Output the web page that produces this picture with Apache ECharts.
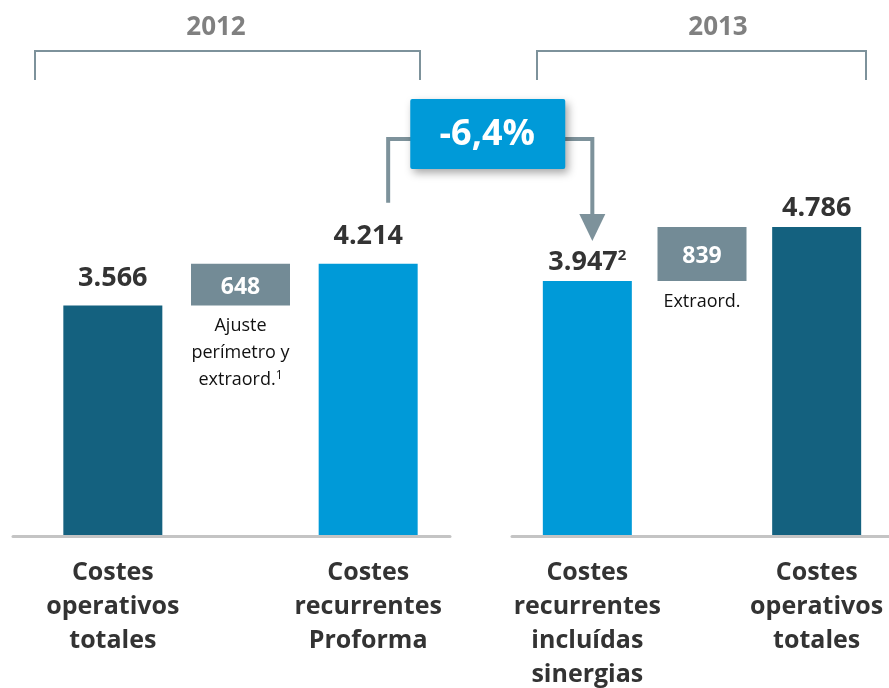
<!DOCTYPE html>
<html>
<head>
<meta charset="utf-8">
<script src="https://cdn.jsdelivr.net/npm/echarts@6/dist/echarts.min.js"></script>
<style>
  html, body { margin: 0; padding: 0; background: #fff; }
  #chart { width: 889px; height: 688px; }
</style>
</head>
<body>
<div id="chart"></div>
<script>
// datos
const years = ['2012', '2013'];
const categories2012 = ['Costes\noperativos\ntotales', '', 'Costes\nrecurrentes\nProforma'];
const categories2013 = ['Costes\nrecurrentes\nincluídas\nsinergias', '', 'Costes\noperativos\ntotales'];
const base2012 = [0, 3566, 0];
const values2012 = [3566, 648, 4214];
const base2013 = [0, 3947, 0];
const values2013 = [3947, 839, 4786];
const valueNotes2013 = ['2', '', ''];
const stepNotes = ['Ajuste\nperímetro y\nextraord.', 'Extraord.'];
const stepNoteMarks = ['1', ''];
const changeLabel = '-6,4%';

const DARK = '#14617f', BLUE = '#009ad8', GREY = '#738b96', LINE = '#7d929b';
const FONT = '"Open Sans", Lato, sans-serif';

function fmt(n) {
  return String(n).replace(/\B(?=(\d{3})+(?!\d))/g, '.');
}

function valueData(values, colors, notes, dist) {
  return values.map(function (v, i) {
    if (i === 1) {
      return {
        value: v,
        itemStyle: { color: GREY },
        label: { show: true, position: 'inside', formatter: fmt(v), color: '#fff',
          fontSize: 23, fontWeight: 'bold', fontFamily: FONT, offset: [0, 3] }
      };
    }
    const sup = notes && notes[i] ? '{s|' + notes[i] + '}' : '';
    return {
      value: v,
      itemStyle: { color: colors[i] },
      label: {
        show: true, position: 'top', distance: dist,
        formatter: '{v|' + fmt(v) + '}' + sup,
        rich: {
          v: { fontSize: 27, fontWeight: 'bold', color: '#333', fontFamily: FONT },
          s: { fontSize: 15, fontWeight: 'bold', color: '#333', fontFamily: FONT, padding: [0, 0, 13, 0] }
        }
      }
    };
  });
}

function baseData(base, note, mark) {
  return base.map(function (v, i) {
    if (i !== 1) return v;
    const lines = note.split('\n');
    if (mark) lines[lines.length - 1] += '{s|' + mark + '}';
    return {
      value: v,
      label: {
        show: true, position: 'insideTop', distance: 7,
        formatter: lines.join('\n'),
        fontSize: 18, lineHeight: 27, color: '#111', fontFamily: FONT,
        rich: { s: { fontSize: 12, color: '#111', fontFamily: FONT, padding: [0, 0, 9, 0] } }
      }
    };
  });
}

const chart = echarts.init(document.getElementById('chart'));

const catAxis = function (gi, data) {
  return {
    type: 'category', gridIndex: gi, data: data,
    axisLine: { show: false }, axisTick: { show: false },
    axisLabel: { interval: 0, margin: 21, fontSize: 25, lineHeight: 34, fontWeight: 'bold',
      color: '#333', fontFamily: FONT }
  };
};
const valAxis = function (gi) {
  return { type: 'value', gridIndex: gi, min: 0, max: 8000, show: false };
};
const lineAxis = function (gi) {
  return {
    type: 'category', gridIndex: gi, data: [''],
    axisLine: { show: true, lineStyle: { color: '#c4c4c4', width: 3 } },
    axisTick: { show: false }, axisLabel: { show: false }, z: 1
  };
};
const gridAt = function (left, right, bottom) {
  return { left: left, right: right, top: 20, bottom: bottom, outerBoundsMode: 'none', containLabel: false };
};

chart.setOption({
  animation: false,
  grid: [
    gridAt(49, 457, 153),
    gridAt(530, 15, 153),
    gridAt(13, 439, 151.5),
    gridAt(512, 0, 151.5)
  ],
  title: [
    { text: years[0], left: 211, top: 10, textAlign: 'center',
      textStyle: { fontSize: 26, fontWeight: 'bold', color: '#808080', fontFamily: FONT } },
    { text: years[1], left: 713, top: 10, textAlign: 'center',
      textStyle: { fontSize: 26, fontWeight: 'bold', color: '#808080', fontFamily: FONT } }
  ],
  xAxis: [catAxis(0, categories2012), catAxis(1, categories2013), lineAxis(2), lineAxis(3)],
  yAxis: [valAxis(0), valAxis(1), valAxis(2), valAxis(3)],
  series: [
    { type: 'bar', xAxisIndex: 0, yAxisIndex: 0, stack: 'a', barWidth: 99, z: 3,
      itemStyle: { color: 'transparent' }, data: baseData(base2012, stepNotes[0], stepNoteMarks[0]) },
    { type: 'bar', xAxisIndex: 0, yAxisIndex: 0, stack: 'a', barWidth: 99, z: 3,
      data: valueData(values2012, [DARK, GREY, BLUE], null, 14) },
    { type: 'bar', xAxisIndex: 1, yAxisIndex: 1, stack: 'b', barWidth: 89, z: 3,
      itemStyle: { color: 'transparent' }, data: baseData(base2013, stepNotes[1], stepNoteMarks[1]) },
    { type: 'bar', xAxisIndex: 1, yAxisIndex: 1, stack: 'b', barWidth: 89, z: 3,
      data: valueData(values2013, [BLUE, GREY, DARK], valueNotes2013, 5) }
  ]
});

// anotaciones: corchetes de año y flecha de variación
const p2 = chart.convertToPixel({ gridIndex: 0 }, [2, values2012[2]]);
const p3 = chart.convertToPixel({ gridIndex: 1 }, [0, values2013[0]]);
const lx = p2[0] + 20, rx = p3[0] + 5;
const topY = 139, boxCx = (lx + rx) / 2 - 3, boxCy = 134;
const tipY = p3[1] - 40;

chart.setOption({
  graphic: [
    { type: 'polyline', shape: { points: [[35, 80], [35, 51], [420, 51], [420, 80]] },
      style: { stroke: LINE, lineWidth: 2, fill: null } },
    { type: 'polyline', shape: { points: [[537, 80], [537, 51], [866, 51], [866, 80]] },
      style: { stroke: LINE, lineWidth: 2, fill: null } },
    { type: 'polyline', shape: { points: [[lx, p2[1] - 61], [lx, topY], [boxCx, topY]] },
      style: { stroke: LINE, lineWidth: 4, fill: null } },
    { type: 'polyline', shape: { points: [[boxCx, topY], [rx, topY], [rx, tipY - 24]] },
      style: { stroke: LINE, lineWidth: 4, fill: null } },
    { type: 'polygon', shape: { points: [[rx - 13, tipY - 27], [rx + 13, tipY - 27], [rx, tipY]] },
      style: { fill: LINE } },
    { type: 'rect', shape: { x: boxCx - 77, y: boxCy - 35, width: 155, height: 70, r: 2 },
      style: { fill: BLUE, shadowBlur: 8, shadowOffsetX: 3, shadowOffsetY: 4, shadowColor: 'rgba(0,0,0,0.35)' }, z: 10 },
    { type: 'text', x: boxCx, y: boxCy + 1, z: 11,
      style: { text: changeLabel, fill: '#fff', fontSize: 36, fontWeight: 'bold', fontFamily: FONT,
        align: 'center', verticalAlign: 'middle' } }
  ]
});
</script>
</body>
</html>
